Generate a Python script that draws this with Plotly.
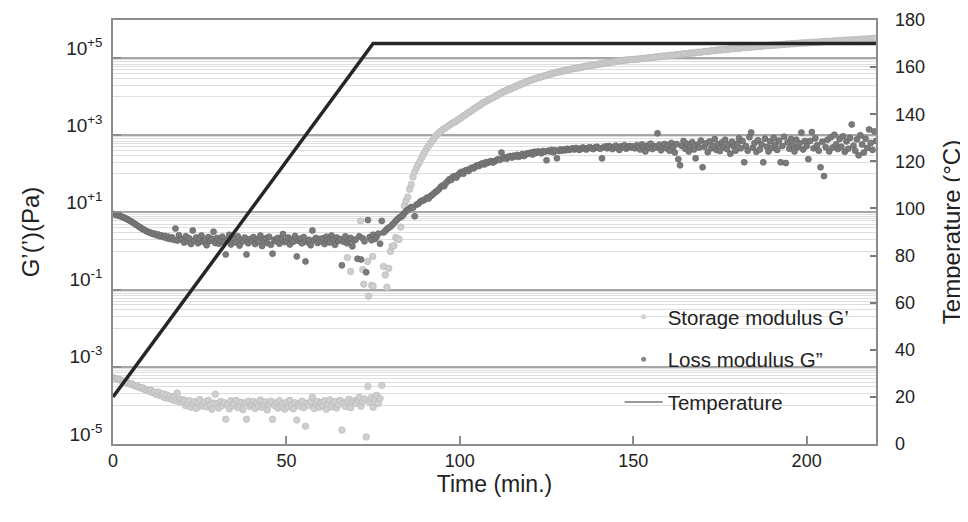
import plotly.graph_objects as go

# ---------------- data ----------------
# sampling grid of the rheometer: one reading every 0.5 min, 0 .. 220 min
SAMPLE_STEP_MIN = 0.5
N_SAMPLES = 441
time_min = [i * SAMPLE_STEP_MIN for i in range(N_SAMPLES)]

# log10 of storage modulus G' (Pa), one value per sample
log_storage = [
    -3.28,-3.30,-3.31,-3.33,-3.33,-3.36,-3.37,-3.40,-3.40,-3.43,-3.45,-3.44,-3.48,-3.50,-3.49,-3.53,-3.55,-3.54,-3.58,-3.60,
    -3.61,-3.64,-3.60,-3.67,-3.66,-3.72,-3.65,-3.74,-3.76,-3.70,-3.80,-3.73,-3.82,-3.77,-3.85,-3.79,-3.88,-3.68,-3.90,-3.84,
    -3.92,-3.86,-4.01,-3.95,-3.88,-4.05,-3.97,-3.90,-4.08,-3.93,-3.85,-4.02,-3.98,-3.91,-4.04,-3.87,-3.99,-4.10,-3.94,-3.71,
    -3.96,-4.07,-3.90,-4.00,-3.93,-4.36,-3.97,-4.09,-3.88,-4.01,-3.95,-3.87,-4.06,-3.99,-3.92,-4.11,-3.94,-4.36,-3.89,-4.03,
    -3.97,-3.90,-4.08,-3.94,-4.02,-3.86,-4.05,-3.98,-3.91,-4.12,-3.96,-3.89,-4.36,-4.00,-3.93,-4.07,-3.88,-4.03,-3.95,-4.10,
    -3.92,-4.04,-3.87,-3.99,-4.09,-3.93,-4.38,-3.96,-4.02,-3.89,-4.06,-4.54,-3.94,-4.00,-3.91,-3.79,-4.08,-3.97,-3.90,-4.05,
    -3.93,-4.01,-3.88,-4.10,-3.96,-3.86,-4.04,-3.95,-3.90,-4.07,-3.98,-3.87,-4.64,-3.94,-4.03,-3.91,-3.84,-4.06,-3.92,-3.88,
    -3.95,-3.86,-3.79,-4.02,-3.90,-3.83,-4.82,-3.51,-3.92,-3.80,-4.05,-3.86,-3.74,-3.95,-3.82,-3.48,-0.40,-0.62,-0.94,-0.45,
    -0.01,0.12,0.14,0.35,0.32,0.30,0.62,0.90,1.17,1.30,1.40,1.60,1.72,1.92,2.05,2.15,2.24,2.32,2.42,2.50,
    2.58,2.66,2.72,2.79,2.85,2.91,2.97,3.02,3.06,3.10,3.14,3.17,3.20,3.23,3.26,3.29,3.32,3.34,3.37,3.40,
    3.43,3.46,3.50,3.52,3.56,3.58,3.62,3.64,3.68,3.70,3.74,3.76,3.79,3.83,3.85,3.88,3.90,3.93,3.95,3.97,
    3.99,4.03,4.04,4.08,4.09,4.13,4.13,4.17,4.17,4.21,4.21,4.25,4.25,4.29,4.29,4.33,4.33,4.36,4.36,4.40,
    4.41,4.43,4.44,4.46,4.47,4.49,4.50,4.51,4.53,4.54,4.55,4.57,4.58,4.59,4.60,4.62,4.63,4.64,4.65,4.66,
    4.67,4.68,4.69,4.70,4.71,4.72,4.73,4.74,4.74,4.75,4.76,4.77,4.78,4.79,4.79,4.80,4.81,4.82,4.82,4.83,
    4.84,4.85,4.85,4.86,4.87,4.88,4.88,4.89,4.90,4.90,4.91,4.92,4.92,4.93,4.94,4.94,4.95,4.95,4.96,4.96,
    4.96,4.97,4.97,4.97,4.98,4.99,4.99,4.99,5.00,5.01,5.01,5.01,5.02,5.03,5.03,5.03,5.04,5.05,5.05,5.05,
    5.06,5.07,5.07,5.07,5.08,5.09,5.09,5.09,5.10,5.11,5.11,5.11,5.12,5.13,5.13,5.13,5.14,5.15,5.15,5.15,
    5.16,5.17,5.17,5.17,5.18,5.19,5.19,5.19,5.20,5.21,5.21,5.21,5.22,5.22,5.22,5.23,5.24,5.24,5.24,5.25,
    5.25,5.25,5.26,5.27,5.27,5.27,5.28,5.28,5.28,5.29,5.29,5.30,5.30,5.30,5.31,5.31,5.32,5.32,5.32,5.33,
    5.33,5.33,5.34,5.34,5.34,5.35,5.35,5.35,5.36,5.36,5.36,5.37,5.37,5.37,5.38,5.38,5.38,5.39,5.39,5.39,
    5.39,5.40,5.40,5.40,5.41,5.41,5.41,5.41,5.42,5.42,5.42,5.43,5.43,5.43,5.43,5.44,5.44,5.44,5.45,5.45,
    5.45,5.45,5.46,5.46,5.46,5.47,5.47,5.47,5.47,5.48,5.48,5.48,5.49,5.49,5.49,5.49,5.50,5.50,5.50,5.51,
    5.51,
]

# extra G' readings scattered during the gel transition (time, log10 Pa)
storage_extra_time = [67.6, 68.5, 71.4, 72.0, 72.3, 73.4, 73.7, 74.6, 74.9, 75.0]
log_storage_extra = [-0.17, -0.53, 0.78, -0.48, -0.86, -0.27, -1.17, -0.89, -0.14, -0.91]

# log10 of loss modulus G'' (Pa), one value per sample
log_loss = [
    0.96,0.95,0.94,0.92,0.91,0.89,0.87,0.85,0.83,0.80,0.78,0.75,0.72,0.69,0.66,0.63,0.60,0.57,0.55,0.52,
    0.50,0.48,0.47,0.44,0.45,0.41,0.43,0.38,0.40,0.36,0.39,0.33,0.37,0.31,0.35,0.29,0.58,0.27,0.41,0.30,
    0.30,0.22,0.38,0.25,0.33,0.18,0.53,0.27,0.35,0.20,0.31,0.40,0.24,0.29,0.15,0.36,0.26,0.32,0.50,0.21,
    0.34,0.19,0.28,0.37,0.23,-0.09,0.30,0.42,0.17,0.27,0.33,0.22,0.38,0.14,0.29,0.25,0.35,-0.09,0.20,0.31,
    0.26,0.36,0.18,0.30,0.24,0.40,0.13,0.28,0.33,0.21,0.37,0.16,-0.07,0.29,0.25,0.34,0.19,0.31,0.44,0.23,
    0.27,0.35,0.17,0.30,0.24,0.39,-0.14,0.26,0.32,0.20,0.36,-0.27,0.23,0.29,0.15,0.53,0.28,0.34,0.21,0.31,
    0.25,0.33,0.18,0.37,0.28,0.22,0.40,0.30,0.16,0.35,0.26,0.31,-0.37,0.24,0.38,0.20,0.29,0.34,0.12,0.27,
    0.30,-0.20,0.38,-0.22,0.33,0.25,-0.55,0.80,0.36,0.28,0.42,0.31,0.37,0.45,0.19,0.78,0.48,0.52,0.57,0.60,
    0.63,0.68,0.72,0.78,0.82,0.86,0.89,0.93,0.98,1.03,1.07,1.10,1.14,1.12,0.90,1.20,1.22,1.27,1.30,1.31,
    1.34,1.38,1.36,1.42,1.45,1.49,1.53,1.56,1.60,1.66,1.70,1.68,1.76,1.81,1.86,1.84,1.92,1.94,1.90,1.97,
    2.02,2.05,2.00,2.08,2.10,2.07,2.13,2.16,2.14,2.19,2.22,2.20,2.25,2.27,2.24,2.30,2.28,2.31,2.33,2.29,
    2.32,2.35,2.38,2.36,2.55,2.40,2.43,2.39,2.44,2.46,2.42,2.47,2.45,2.49,2.44,2.48,2.51,2.46,2.50,2.53,
    2.52,2.55,2.50,2.57,2.54,2.58,2.56,2.53,2.59,2.57,2.35,2.60,2.58,2.62,2.56,2.61,2.40,2.59,2.63,2.60,
    2.63,2.61,2.65,2.62,2.64,2.66,2.63,2.67,2.64,2.62,2.66,2.68,2.65,2.63,2.67,2.69,2.66,2.64,2.68,2.70,
    2.67,2.65,2.40,2.69,2.71,2.66,2.72,2.68,2.64,2.70,2.73,2.67,2.62,2.71,2.69,2.74,2.65,2.70,2.72,2.68,
    2.71,2.66,2.74,2.69,2.63,2.76,2.70,2.58,2.73,2.67,2.78,2.64,2.72,2.68,3.05,2.75,2.61,2.70,2.77,2.66,
    2.74,2.60,2.80,2.69,2.55,2.77,2.38,2.22,2.72,2.85,2.65,2.78,2.58,2.71,2.82,2.63,2.40,2.75,2.68,2.86,
    2.17,2.70,2.79,2.56,2.84,2.66,2.73,2.90,2.62,2.76,2.59,2.81,2.69,2.88,2.64,2.75,2.52,2.83,2.71,2.60,
    2.78,2.92,2.66,2.85,2.30,2.72,2.60,2.95,3.07,2.68,2.80,2.57,2.87,2.63,2.76,2.30,2.91,2.70,2.58,2.84,
    2.67,2.93,2.75,2.62,2.86,2.30,2.72,2.96,2.28,2.81,2.65,2.90,2.74,2.58,2.88,2.69,2.79,3.07,2.63,2.85,
    2.72,2.38,2.85,3.08,2.66,2.92,2.74,2.60,2.17,2.83,1.94,2.69,2.88,2.58,2.95,2.68,3.01,2.76,2.64,2.90,
    2.70,2.97,2.57,2.84,2.65,2.93,3.28,2.73,2.60,2.89,2.48,3.00,2.76,2.55,2.91,2.67,3.15,2.80,2.62,3.10,
    2.85,
]

# temperature program: ramp 2 °C/min then isothermal hold
temp_time = [0, 75, 220]
temp_c = [20, 170, 170]

# axis ticks
x_ticks = [0, 50, 100, 150, 200]
g_tick_exponents = [-5, -3, -1, 1, 3, 5]
g_tick_labels = ["10<sup>-5</sup>", "10<sup>-3</sup>", "10<sup>-1</sup>",
                 "10<sup>+1</sup>", "10<sup>+3</sup>", "10<sup>+5</sup>"]
temp_ticks = [0, 20, 40, 60, 80, 100, 120, 140, 160, 180]

# ---------------- derived (unit conversion only) ----------------
storage_pa = [10 ** v for v in log_storage] + [10 ** v for v in log_storage_extra]
storage_t = time_min + storage_extra_time
loss_pa = [10 ** v for v in log_loss]
g_tick_vals = [10.0 ** e for e in g_tick_exponents]
minor_vals = [m * 10.0 ** (e - 1) for e in [5, 3, 1, -1, -3] for m in range(1, 10)]

FONT = "Liberation Sans, Arial, sans-serif"
AXIS = "#8c8c8c"

fig = go.Figure()

fig.add_trace(go.Scatter(
    x=storage_t, y=storage_pa, mode="markers", showlegend=False,
    marker=dict(size=6.5, color="#cfcfcf", line=dict(color="#b9b9b9", width=0.7)),
))
fig.add_trace(go.Scatter(
    x=time_min, y=loss_pa, mode="markers", showlegend=False,
    marker=dict(size=6, color="#7b7b7b", line=dict(color="#666666", width=0.7)),
))
fig.add_trace(go.Scatter(
    x=temp_time, y=temp_c, yaxis="y2", mode="lines", showlegend=False,
    line=dict(color="#262626", width=3.5),
))

# legend entries
fig.add_trace(go.Scatter(x=[None], y=[None], mode="markers", name="Storage modulus G’",
                         legendgroup="a", marker=dict(size=5, color="#d2d2d2")))
fig.add_trace(go.Scatter(x=[None], y=[None], mode="markers", name="Loss modulus G”",
                         legendgroup="b", marker=dict(size=5, color="#8a8a8a")))
fig.add_trace(go.Scatter(x=[None], y=[None], mode="lines", name="Temperature",
                         legendgroup="c", line=dict(color="#333333", width=1.2)))

fig.update_layout(
    width=968, height=522,
    margin=dict(l=105, r=100, t=12, b=86, pad=0, autoexpand=False),
    paper_bgcolor="white", plot_bgcolor="white",
    font=dict(family=FONT, size=18, color="#222222"),
    showlegend=True,
    legend=dict(x=0.664, y=0.347, xanchor="left", yanchor="top", itemwidth=38,
                bgcolor="rgba(0,0,0,0)", font=dict(size=20.5, color="#222222"),
                traceorder="grouped", tracegroupgap=13),
    xaxis=dict(
        range=[0, 220], tickvals=x_ticks, ticks="inside", ticklen=8, automargin=False,
        tickcolor=AXIS, tickwidth=1.5, showline=True, linecolor=AXIS, linewidth=1.5,
        mirror=True, showgrid=False, zeroline=False,
        tickfont=dict(size=18), ticklabelstandoff=0,
        title=dict(text="Time (min.)", font=dict(size=23), standoff=2),
    ),
    yaxis=dict(
        type="log", range=[-5.0005, 5.985], automargin=False,
        tickvals=g_tick_vals, ticktext=g_tick_labels,
        ticks="inside", ticklen=8, tickcolor=AXIS, tickwidth=1.5,
        showline=True, linecolor=AXIS, linewidth=1.5, mirror=True,
        showgrid=True, gridcolor="#a6a6a6", gridwidth=1.5, zeroline=False,
        minor=dict(tickvals=minor_vals, showgrid=True, gridcolor="#dedede",
                   gridwidth=1.4, ticks=""),
        tickfont=dict(size=19), ticklabelshift=-10, ticklabelstandoff=5,
        title=dict(text="G’(’)(Pa)", font=dict(size=24), standoff=20),
    ),
    yaxis2=dict(
        overlaying="y", side="right", range=[0, 180], tickvals=temp_ticks, automargin=False,
        ticks="inside", ticklen=6, tickcolor="#777777", tickwidth=1.5,
        showline=False, showgrid=False, zeroline=False,
        tickfont=dict(size=18), ticklabelstandoff=18,
        title=dict(text="Temperature (°C)", font=dict(size=24), standoff=19),
    ),
)

fig.write_html("out.html")
